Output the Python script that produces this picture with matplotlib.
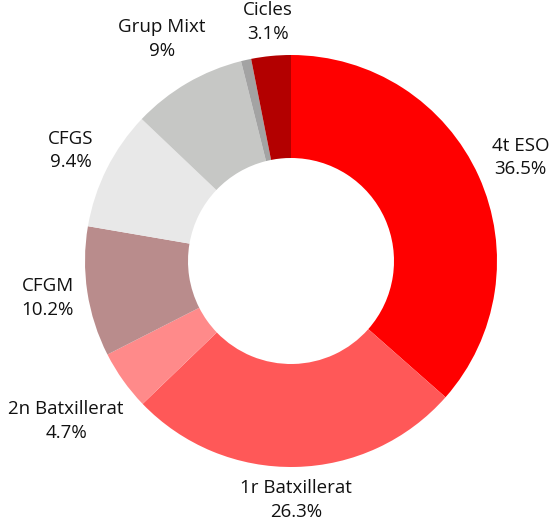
import matplotlib
matplotlib.use("Agg")
import matplotlib.pyplot as plt
import numpy as np

# Share per course (%), clockwise from top
categories = ["4t ESO", "1r Batxillerat", "2n Batxillerat", "CFGM", "CFGS", "Grup Mixt", "", "Cicles"]
values = [36.5, 26.3, 4.7, 10.2, 9.4, 9.0, 0.8, 3.1]
colors = ["#ff0000", "#ff5858", "#ff8a8a", "#b98c8c", "#e8e8e8", "#c6c7c5", "#a3a3a3", "#b30000"]

plt.rcParams['font.family'] = ['Open Sans', 'DejaVu Sans']

R_PX = 206  # outer radius in pixels
fig = plt.figure(figsize=(5.53, 5.22), dpi=100)
ax = fig.add_axes([0, 0, 1, 1])

wedges, _ = ax.pie(values, colors=colors, startangle=90, counterclock=False,
                   radius=1.0, wedgeprops=dict(width=0.5, linewidth=0))

# place pie centre at (291, 261) px
ax.set_xlim(-291 / R_PX, (553 - 291) / R_PX)
ax.set_ylim(-(522 - 261) / R_PX, 261 / R_PX)
ax.set_aspect("auto")
ax.axis("off")

# labels outside, box edge kept a fixed gap from the ring
fig.canvas.draw()
renderer = fig.canvas.get_renderer()
gap = 11 / R_PX
for w, name, v in zip(wedges, categories, values):
    if not name:
        continue
    ang = np.deg2rad((w.theta1 + w.theta2) / 2)
    dx, dy = np.cos(ang), np.sin(ang)
    t = ax.text(0, 0, f"{name}\n{v:g}%", ha="center", va="center",
                fontsize=13.5, color="#111111", linespacing=1.4)
    bb = t.get_window_extent(renderer)
    hw, hh = bb.width / 2 / R_PX, bb.height / 2 / R_PX
    d = 1 + gap + abs(dx) * hw + abs(dy) * hh
    t.set_position((dx * d, dy * d))

fig.savefig("out.png", dpi=100)
